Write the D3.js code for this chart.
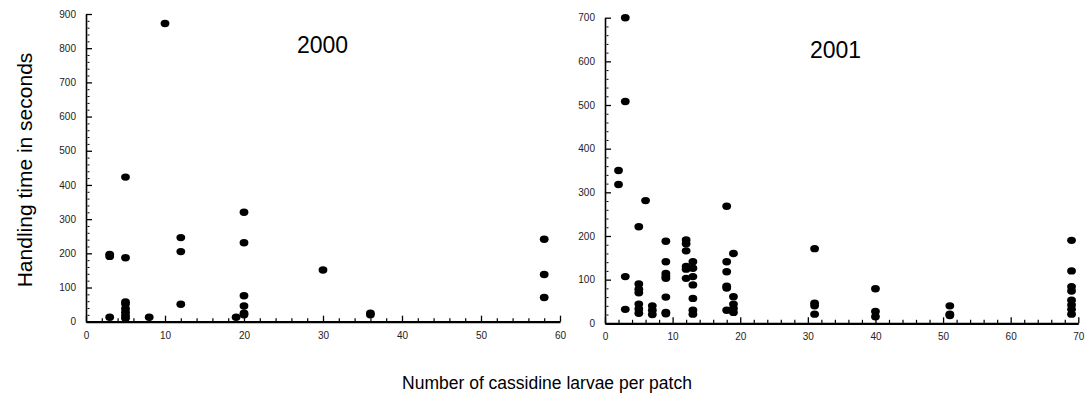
<!DOCTYPE html>
<html>
<head>
<meta charset="utf-8">
<script src="https://cdn.jsdelivr.net/npm/d3@7"></script>
<style>
  html, body { margin: 0; padding: 0; background: #fff; }
  svg { display: block; }
  text { font-family: "Liberation Sans", Arial, sans-serif; }
</style>
</head>
<body>
<svg id="chart" width="1090" height="393"></svg>
<script>
// ---- data ----
const larvae2000 = [3, 3, 3, 5, 5, 5, 5, 5, 5, 5, 5, 8, 10, 12, 12, 12, 19, 20, 20, 20, 20, 20, 20, 30, 36, 36, 58, 58, 58];
const time2000   = [197, 191, 13, 423, 187, 58, 52, 38, 28, 18, 10, 13, 872, 246, 205, 51, 13, 320, 231, 76, 46, 25, 20, 151, 25, 20, 241, 138, 71];

const larvae2001 = [2, 2, 3, 3, 3, 3, 5, 5, 5, 5, 5, 5, 5, 6, 7, 7, 7,
  9, 9, 9, 9, 9, 9, 9, 9, 12, 12, 12, 12, 12, 12, 13, 13, 13, 13, 13, 13, 13,
  18, 18, 18, 18, 18, 18, 19, 19, 19, 19, 19, 31, 31, 31, 31, 40, 40, 40, 51, 51, 51,
  69, 69, 69, 69, 69, 69, 69, 69];
const time2001   = [350, 318, 700, 508, 107, 32, 221, 90, 78, 70, 44, 33, 23, 281, 40, 30, 20,
  188, 141, 114, 108, 103, 60, 25, 22, 191, 182, 166, 130, 124, 103, 141, 126, 107, 88, 57, 30, 21,
  268, 141, 118, 85, 81, 30, 160, 61, 44, 34, 25, 171, 46, 40, 21, 79, 27, 15, 40, 21, 18,
  190, 120, 84, 74, 53, 42, 32, 21];

const xTicks2000 = [0, 10, 20, 30, 40, 50, 60];
const yTicks2000 = [0, 100, 200, 300, 400, 500, 600, 700, 800, 900];
const xTicks2001 = [0, 10, 20, 30, 40, 50, 60, 70];
const yTicks2001 = [0, 100, 200, 300, 400, 500, 600, 700];

const yTitle = "Handling time in seconds";
const xTitle = "Number of cassidine larvae per patch";

const svg = d3.select("#chart");

function panel(cfg) {
  const x = d3.scaleLinear().domain(cfg.xDomain).range(cfg.xRange);
  const y = d3.scaleLinear().domain(cfg.yDomain).range(cfg.yRange);
  const g = svg.append("g");
  const y0 = cfg.yRange[0], x0 = cfg.xRange[0];

  // minor ticks x
  const xMinor = d3.range(cfg.xDomain[0], cfg.xDomain[1] + 0.001, 2).filter(v => v % 10 !== 0);
  g.append("g").attr("transform", `translate(0,${y0})`)
    .call(d3.axisBottom(x).tickValues(xMinor).tickSize(-3.5).tickSizeOuter(0).tickFormat(""))
    .call(a => a.select(".domain").remove())
    .call(a => a.selectAll("line").attr("stroke", "#000").attr("stroke-width", 1.2));
  // minor ticks y
  const yMinor = d3.range(cfg.yDomain[0], cfg.yDomain[1] + 0.001, 20).filter(v => v % 100 !== 0);
  g.append("g").attr("transform", `translate(${x0},0)`)
    .call(d3.axisLeft(y).tickValues(yMinor).tickSize(-3.5).tickSizeOuter(0).tickFormat(""))
    .call(a => a.select(".domain").remove())
    .call(a => a.selectAll("line").attr("stroke", "#000").attr("stroke-width", 1).attr("x1", 1.5));

  // major x axis
  g.append("g").attr("transform", `translate(0,${y0})`)
    .call(d3.axisBottom(x).tickValues(cfg.xTicks).tickSize(-6).tickSizeOuter(0).tickPadding(10))
    .call(a => a.select(".domain").attr("stroke", "#000").attr("stroke-width", 2.2))
    .call(a => a.selectAll("line").attr("stroke", "#000").attr("stroke-width", 1.3))
    .call(a => a.selectAll("text").attr("font-size", 10).attr("fill", "#222")
      .attr("font-family", "'Liberation Sans', Arial, sans-serif"));
  // major y axis
  g.append("g").attr("transform", `translate(${x0},0)`)
    .call(d3.axisLeft(y).tickValues(cfg.yTicks).tickSize(-6).tickSizeOuter(0).tickPadding(10))
    .call(a => a.select(".domain").attr("stroke", "#000").attr("stroke-width", 1.6))
    .call(a => a.selectAll("line").attr("stroke", "#000").attr("stroke-width", 1.3))
    .call(a => a.selectAll("text").attr("font-size", 10).attr("fill", "#222")
      .attr("font-family", "'Liberation Sans', Arial, sans-serif"));

  // points
  g.append("g").selectAll("ellipse")
    .data(cfg.xs.map((d, i) => [d, cfg.ys[i]]))
    .join("ellipse")
    .attr("cx", d => x(d[0]))
    .attr("cy", d => y(d[1]))
    .attr("rx", 4.4)
    .attr("ry", 3.7)
    .attr("fill", "#000");

  g.append("text")
    .attr("x", cfg.titleX).attr("y", cfg.titleY)
    .attr("text-anchor", "middle")
    .attr("font-size", 23)
    .attr("fill", "#000")
    .text(cfg.title);
}

panel({
  xDomain: [0, 60], yDomain: [0, 900],
  xRange: [86, 560], yRange: [321.7, 14],
  xTicks: xTicks2000, yTicks: yTicks2000,
  xs: larvae2000, ys: time2000,
  title: "2000", titleX: 322.5, titleY: 53
});
panel({
  xDomain: [0, 70], yDomain: [0, 700],
  xRange: [605, 1078.3], yRange: [323.3, 17.7],
  xTicks: xTicks2001, yTicks: yTicks2001,
  xs: larvae2001, ys: time2001,
  title: "2001", titleX: 835.5, titleY: 58
});

svg.append("text")
  .attr("transform", "translate(32,170) rotate(-90)")
  .attr("text-anchor", "middle")
  .attr("font-size", 21)
  .attr("fill", "#000")
  .text(yTitle);

svg.append("text")
  .attr("x", 547).attr("y", 389)
  .attr("text-anchor", "middle")
  .attr("font-size", 17.5)
  .attr("fill", "#000")
  .text(xTitle);
</script>
</body>
</html>
